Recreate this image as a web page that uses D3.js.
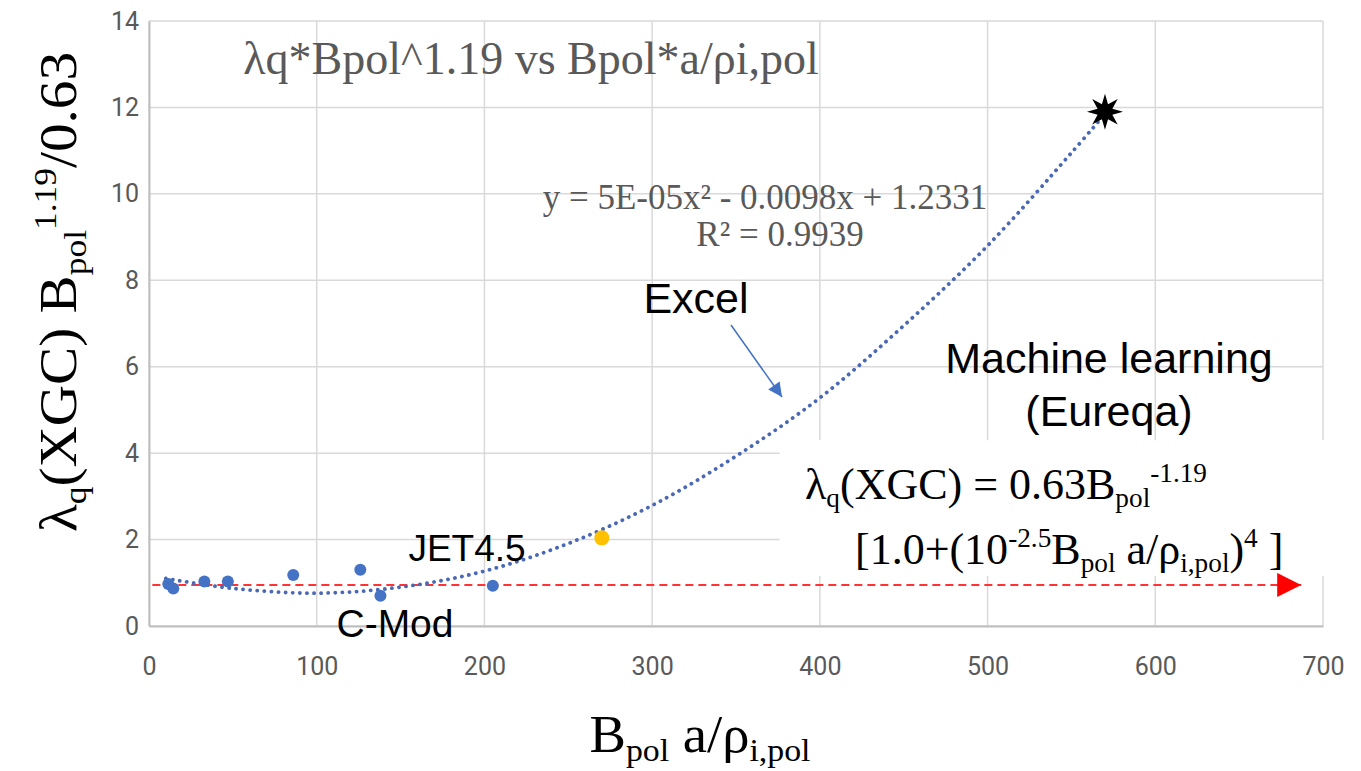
<!DOCTYPE html>
<html>
<head>
<meta charset="utf-8">
<script src="https://cdn.jsdelivr.net/npm/d3@7"></script>
<style>
  body { margin: 0; background: #fff; }
  svg { display: block; }
</style>
</head>
<body>
<div class="view"></div>
<script>
// scatter points (blue)
const ptsX = [11.5, 14.5, 33, 47, 86, 126, 138, 205];
const ptsY = [0.97, 0.87, 1.03, 1.03, 1.18, 1.30, 0.70, 0.93];
// JET point (orange) and the star
const jetX = [270], jetY = [2.04];
const starX = [570], starY = [11.9];
// excel trendline, points
const fitX = [10, 50, 100, 150, 200, 250, 300, 350, 400, 450, 500, 550, 570];
const fitY = [1.10, 0.87, 0.76, 0.90, 1.27, 1.91, 2.79, 3.93, 5.28, 6.95, 8.80, 10.95, 11.85];
// red dashed reference level
const refY = 0.95;
const xTicks = [0, 100, 200, 300, 400, 500, 600, 700];
const yTicks = [0, 2, 4, 6, 8, 10, 12, 14];

const W = 1361, H = 771;
const margin = {top: 21, right: 38, bottom: 145, left: 149};
const width = W - margin.left - margin.right;
const height = H - margin.top - margin.bottom;

const svg = d3.select(".view").append("svg")
    .attr("width", W).attr("height", H);

const g = svg.append("g")
    .attr("transform", `translate(${margin.left},${margin.top})`);

const x = d3.scaleLinear().domain([0, 700]).range([0, width]);
const y = d3.scaleLinear().domain([0, 14]).range([height, 0]);

// gridlines
g.append("g").selectAll("line").data(xTicks).join("line")
    .attr("x1", d => x(d)).attr("x2", d => x(d))
    .attr("y1", 0).attr("y2", height)
    .attr("stroke", "#d9d9d9").attr("stroke-width", 1.5);
g.append("g").selectAll("line").data(yTicks).join("line")
    .attr("x1", 0).attr("x2", width)
    .attr("y1", d => y(d)).attr("y2", d => y(d))
    .attr("stroke", "#d9d9d9").attr("stroke-width", 1.5);

// axes
const tickFont = "Roboto, 'Liberation Sans', sans-serif";
const xAxis = g.append("g").attr("transform", `translate(0,${height})`)
    .call(d3.axisBottom(x).tickValues(xTicks).tickSize(0).tickPadding(31));
const yAxis = g.append("g")
    .call(d3.axisLeft(y).tickValues(yTicks).tickSize(0).tickPadding(10));
[xAxis, yAxis].forEach(a => {
    a.select(".domain").attr("stroke", "#bfbfbf").attr("stroke-width", 2);
    a.selectAll("text").attr("fill", "#595959")
        .style("font-family", tickFont).style("font-size", "25px");
});

// red dashed line with arrow
svg.append("defs").append("marker")
    .attr("id", "redhead").attr("viewBox", "0 0 10 10")
    .attr("refX", 10).attr("refY", 5)
    .attr("markerWidth", 28).attr("markerHeight", 24)
    .attr("markerUnits", "userSpaceOnUse").attr("orient", "auto")
  .append("path").attr("d", "M0,0L10,5L0,10Z").attr("fill", "#ff0000");

// white box under the formula
g.append("rect")
    .attr("x", x(376)).attr("y", y(4.3))
    .attr("width", width - x(376) + 20).attr("height", y(1.16) - y(4.3))
    .attr("fill", "#fff");

g.append("line")
    .attr("x1", x(2)).attr("x2", x(687))
    .attr("y1", y(refY)).attr("y2", y(refY))
    .attr("stroke", "#ff3333").attr("stroke-width", 2)
    .attr("stroke-dasharray", "8 5")
    .attr("marker-end", "url(#redhead)");

// trendline
const line = d3.line().x(d => x(d[0])).y(d => y(d[1])).curve(d3.curveCatmullRom);
g.append("path")
    .datum(d3.zip(fitX, fitY))
    .attr("d", line)
    .attr("fill", "none")
    .attr("stroke", "#4a68b4").attr("stroke-width", 3.8)
    .attr("stroke-linecap", "round")
    .attr("stroke-dasharray", "0.1 7");

// scatter
g.append("g").selectAll("circle").data(d3.zip(ptsX, ptsY)).join("circle")
    .attr("cx", d => x(d[0])).attr("cy", d => y(d[1])).attr("r", 6)
    .attr("fill", "#4472c4");
g.append("g").selectAll("circle").data(d3.zip(jetX, jetY)).join("circle")
    .attr("cx", d => x(d[0])).attr("cy", d => y(d[1])).attr("r", 7.5)
    .attr("fill", "#ffc000");

// 8-point star
const star = d3.range(16).map(i => {
    const a = i * Math.PI / 8 - Math.PI / 2;
    const r = i % 2 ? 8 : 18;
    return [r * Math.cos(a), r * Math.sin(a)];
});
g.append("g").selectAll("path").data(d3.zip(starX, starY)).join("path")
    .attr("transform", d => `translate(${x(d[0])},${y(d[1])})`)
    .attr("d", "M" + star.join("L") + "Z")
    .attr("fill", "#000");

// helper for rich text with sub/superscripts
function rich(sel, parts, size) {
    parts.forEach(p => {
        const t = sel.append("tspan").text(p[0]);
        if (p[1] === "sub") t.attr("font-size", size * 0.62).attr("baseline-shift", "-28%");
        else if (p[1] === "sup") t.attr("font-size", size * 0.62).attr("baseline-shift", "62%");
    });
}
const serif = "'Liberation Serif', 'Times New Roman', serif";
const sans = "'Liberation Sans', Arial, sans-serif";

// title
svg.append("text").attr("x", 531).attr("y", 74).attr("text-anchor", "middle")
    .attr("fill", "#595959").style("font-family", serif).style("font-size", "46px")
    .text("λq*Bpol^1.19 vs Bpol*a/ρi,pol");

// trendline equation
const eq = svg.append("text").attr("fill", "#595959")
    .style("font-family", serif).style("font-size", "35px").attr("text-anchor", "middle");
eq.append("tspan").attr("x", 765).attr("y", 209).text("y = 5E-05x² - 0.0098x + 1.2331");
eq.append("tspan").attr("x", 780).attr("y", 246).text("R² = 0.9939");

// annotations
svg.append("text").attr("x", 696).attr("y", 313).attr("text-anchor", "middle")
    .style("font-family", sans).style("font-size", "43px").text("Excel");
svg.append("defs").append("marker")
    .attr("id", "bluehead").attr("viewBox", "0 0 10 10")
    .attr("refX", 10).attr("refY", 5)
    .attr("markerWidth", 16).attr("markerHeight", 14)
    .attr("markerUnits", "userSpaceOnUse").attr("orient", "auto")
  .append("path").attr("d", "M0,0L10,5L0,10Z").attr("fill", "#4472c4");
svg.append("line").attr("x1", 731).attr("y1", 325).attr("x2", 782).attr("y2", 397)
    .attr("stroke", "#4472c4").attr("stroke-width", 1.5).attr("marker-end", "url(#bluehead)");

const ml = svg.append("text").attr("text-anchor", "middle")
    .style("font-family", sans).style("font-size", "43px");
ml.append("tspan").attr("x", 1109).attr("y", 373).text("Machine learning");
ml.append("tspan").attr("x", 1109).attr("y", 426).text("(Eureqa)");

svg.append("text").attr("x", 467).attr("y", 561).attr("text-anchor", "middle")
    .style("font-family", sans).style("font-size", "37px").text("JET4.5");
svg.append("text").attr("x", 395).attr("y", 637).attr("text-anchor", "middle")
    .style("font-family", sans).style("font-size", "39px").text("C-Mod");

// Eureqa formula
const f1 = svg.append("text").attr("x", 805).attr("y", 499)
    .style("font-family", serif).style("font-size", "44px");
rich(f1, [["λ"], ["q", "sub"], ["(XGC) = 0.63B"], ["pol", "sub"], ["-1.19", "sup"]], 44);
const f2 = svg.append("text").attr("x", 855).attr("y", 564)
    .style("font-family", serif).style("font-size", "44px");
rich(f2, [["[1.0+(10"], ["-2.5", "sup"], ["B"], ["pol", "sub"], [" a/ρ"], ["i,pol", "sub"], [")"], ["4", "sup"], [" ]"]], 44);

// axis titles
const xt = svg.append("text").attr("transform", "translate(700,752) scale(1.05,1)")
    .attr("text-anchor", "middle")
    .style("font-family", serif).style("font-size", "52px");
rich(xt, [["B"], ["pol", "sub"], [" a/ρ"], ["i,pol", "sub"]], 52);

const yt = svg.append("text").attr("transform", "translate(76,292) rotate(-90) scale(1.1,1)")
    .attr("text-anchor", "middle")
    .style("font-family", serif).style("font-size", "52px");
rich(yt, [["λ"], ["q", "sub"], ["(XGC) B"], ["pol", "sub"], ["1.19", "sup"], ["/0.63"]], 52);
</script>
</body>
</html>
